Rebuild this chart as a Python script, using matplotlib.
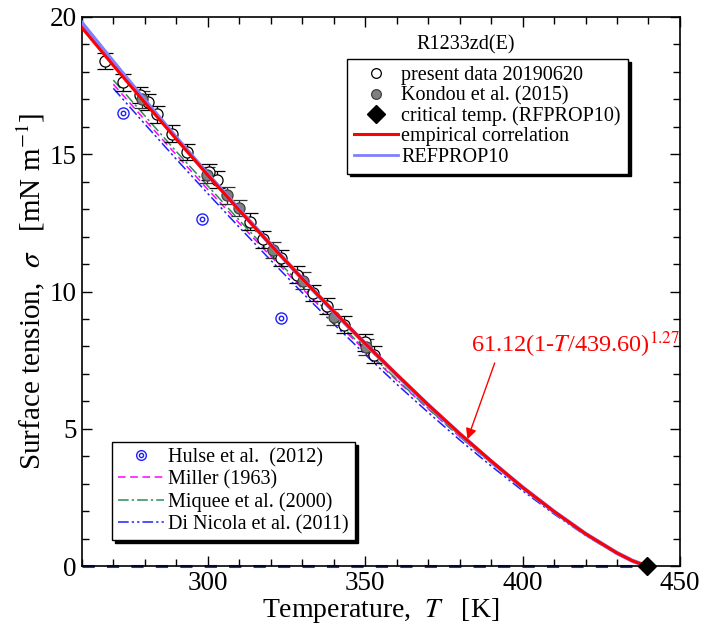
import numpy as np
import matplotlib as mpl
mpl.use('Agg')
import matplotlib.pyplot as plt
from matplotlib.lines import Line2D
from matplotlib.legend_handler import HandlerTuple

plt.rcParams['font.family'] = ['Liberation Serif', 'DejaVu Serif']
plt.rcParams['mathtext.fontset'] = 'stix'

# present data 20190620 (open circles)
present_T = [267.3, 273.0, 278.5, 281.0, 283.8, 288.5, 293.3, 300.5, 302.8, 313.3,
             317.4, 323.4, 328.2, 333.3, 338.0, 343.4, 349.8, 352.9]
present_s = [18.40, 17.62, 17.15, 16.90, 16.45, 15.75, 15.08, 14.35, 14.08, 12.55,
             11.90, 11.22, 10.62, 9.95, 9.47, 8.80, 8.15, 7.70]
present_err = 0.3

# Kondou et al. (2015)
kondou_T = [279.0, 299.6, 306.0, 310.0, 320.6, 330.1, 340.2, 350.4]
kondou_s = [17.00, 14.24, 13.50, 13.04, 11.51, 10.40, 9.07, 7.98]
kondou_err = 0.3

# Hulse et al. (2012)
hulse_T = [273.2, 298.2, 323.2]
hulse_s = [16.50, 12.65, 9.05]

# critical temperature (REFPROP10)
Tc = 439.6

# empirical correlation  61.12(1-T/439.60)^1.27
corr_T = [260, 270, 280, 290, 300, 310, 320, 330, 340, 350, 360, 370, 380, 390,
          400, 410, 420, 430, 435, 439.6]
corr_s = [19.61, 18.23, 16.88, 15.55, 14.24, 12.96, 11.70, 10.47, 9.28, 8.11,
          6.98, 5.88, 4.83, 3.83, 2.87, 1.99, 1.18, 0.48, 0.19, 0.0]

# REFPROP10
ref_T = [260, 270, 280, 290, 300, 310, 320, 330, 340, 350, 360, 370, 380, 390,
         400, 410, 420, 430, 435, 439.6]
ref_s = [19.78, 18.36, 16.96, 15.60, 14.27, 12.98, 11.71, 10.47, 9.27, 8.10,
         6.97, 5.87, 4.82, 3.82, 2.87, 1.99, 1.18, 0.48, 0.19, 0.0]

# Miller (1963)
mil_T = [270, 280, 290, 300, 310, 320, 330, 340, 350, 360, 370, 380, 390, 400,
         410, 420, 430, 439.6]
mil_s = [17.55, 16.25, 14.98, 13.72, 12.49, 11.29, 10.11, 8.96, 7.85, 6.77,
         5.73, 4.72, 3.77, 2.86, 2.00, 1.20, 0.50, 0.0]

# Miquee et al. (2000)
miq_T = [270, 280, 290, 300, 310, 320, 330, 340, 350, 360, 370, 380, 390, 400,
         410, 420, 430, 439.6]
miq_s = [17.70, 16.40, 15.10, 13.85, 12.60, 11.38, 10.20, 9.03, 7.90, 6.80,
         5.75, 4.72, 3.75, 2.83, 1.97, 1.17, 0.47, 0.0]

# Di Nicola et al. (2011)
dn_T = [270, 280, 290, 300, 310, 320, 330, 340, 350, 360, 370, 380, 390, 400,
        410, 420, 430, 439.6]
dn_s = [17.40, 16.10, 14.82, 13.57, 12.34, 11.14, 9.96, 8.82, 7.71, 6.63,
        5.60, 4.60, 3.65, 2.75, 1.90, 1.12, 0.44, 0.0]


fig = plt.figure(figsize=(7.18, 6.27), dpi=100)
ax = fig.add_axes([0.114, 0.097, 0.833, 0.876])

# model lines
ax.plot(mil_T, mil_s, color='#ff00ff', lw=1.1, ls=(0, (5, 3)), zorder=2)
ax.plot(miq_T, miq_s, color='#2e8b57', lw=1.1, ls=(0, (7, 2, 1.5, 2)), zorder=2)
ax.plot(dn_T, dn_s, color='#2020ff', lw=1.1, ls=(0, (7, 2, 1.5, 2, 1.5, 2)), zorder=2)
ax.plot([260, Tc], [0, 0], color='#1030ff', lw=2.2, ls=(0, (4, 4)), zorder=2, clip_on=False)

# data with error bars
ax.errorbar(present_T, present_s, yerr=present_err, fmt='o', ms=8, mfc='white', mec='black',
            mew=0.9, ecolor='black', elinewidth=0.9, capsize=6, capthick=0.9, zorder=3)
ax.errorbar(kondou_T, kondou_s, yerr=kondou_err, fmt='o', ms=8, mfc='#808080', mec='#404040',
            mew=0.9, ecolor='#303030', elinewidth=0.9, capsize=6, capthick=0.9, zorder=3)

ax.plot(ref_T, ref_s, color='#8080ff', lw=3.0, zorder=4)
ax.plot(corr_T, corr_s, color='#ff0000', lw=2.2, zorder=5)

# Hulse (double circle)
ax.plot(hulse_T, hulse_s, 'o', ms=8, mfc='none', mec='#2020ff', mew=1.0, zorder=6)
ax.plot(hulse_T, hulse_s, 'o', ms=3.2, mfc='none', mec='#2020ff', mew=1.0, zorder=6)

# critical point
ax.plot([Tc], [0], 'D', ms=9, color='black', zorder=7, clip_on=False)

ax.set_xlim(260, 450)
ax.set_ylim(0, 20)
ax.set_xticks([300, 350, 400, 450])
ax.set_xticks(np.arange(260, 451, 10), minor=True)
ax.set_yticks([0, 5, 10, 15, 20])
ax.set_yticks(np.arange(0, 21, 1), minor=True)
ax.tick_params(which='both', direction='in', top=True, right=True, labelsize=19.5, width=1.0)
ax.tick_params(which='major', length=7)
ax.tick_params(which='minor', length=5)
for s in ax.spines.values():
    s.set_linewidth(1.2)

ax.set_xlabel('Temperature,  $T$   [K]', fontsize=20, labelpad=0)
ax.set_ylabel('Surface tension,  $\\sigma$   [mN m$^{-1}$]', fontsize=21, labelpad=2)

# annotation
ax.annotate('61.12(1-$T$/439.60)$^{1.27}$', xy=(382.5, 4.62), xytext=(383.5, 7.5),
            color='red', fontsize=17.5, ha='left', va='bottom',
            arrowprops=dict(arrowstyle='-|>', color='red', lw=1.0, mutation_scale=16,
                            shrinkA=0, shrinkB=0, relpos=(0.12, 0.0)))

ax.text(381.8, 19.0, 'R1233zd(E)', fontsize=14.5, ha='center', va='center')

h1 = [Line2D([], [], ls='none', marker='o', ms=7, mfc='white', mec='black', mew=0.9),
      Line2D([], [], ls='none', marker='o', ms=7, mfc='#808080', mec='#404040', mew=0.9),
      Line2D([], [], ls='none', marker='D', ms=9, color='black'),
      Line2D([], [], color='#ff0000', lw=2.2),
      Line2D([], [], color='#8080ff', lw=2.0)]
l1 = ['present data 20190620', 'Kondou et al. (2015)', 'critical temp. (RFPROP10)',
      'empirical correlation', 'REFPROP10']
leg1 = ax.legend(h1, l1, loc='upper left', bbox_to_anchor=(0.443, 0.923), fontsize=14.5,
                 frameon=True, fancybox=False, edgecolor='black', framealpha=1,
                 shadow={'color': 'black', 'alpha': 1}, borderpad=0.35, labelspacing=0.05,
                 handlelength=2.2, handletextpad=0.15, borderaxespad=0)
leg1.get_frame().set_linewidth(1.0)
ax.add_artist(leg1)

hulse_h = (Line2D([], [], ls='none', marker='o', ms=7, mfc='none', mec='#2020ff', mew=1.0),
           Line2D([], [], ls='none', marker='o', ms=3, mfc='none', mec='#2020ff', mew=1.0))
h2 = [hulse_h,
      Line2D([], [], color='#ff00ff', lw=1.1, ls=(0, (5, 3))),
      Line2D([], [], color='#2e8b57', lw=1.1, ls=(0, (7, 2, 1.5, 2))),
      Line2D([], [], color='#2020ff', lw=1.1, ls=(0, (7, 2, 1.5, 2, 1.5, 2)))]
l2 = ['Hulse et al.  (2012)', 'Miller (1963)', 'Miquee et al. (2000)', 'Di Nicola et al. (2011)']
leg2 = ax.legend(h2, l2, loc='lower left', bbox_to_anchor=(0.05, 0.047), fontsize=14.5,
                 frameon=True, fancybox=False, edgecolor='black', framealpha=1,
                 shadow={'color': 'black', 'alpha': 1}, borderpad=0.3, labelspacing=0.15,
                 handlelength=2.3, handletextpad=0.2, borderaxespad=0,
                 handler_map={tuple: HandlerTuple(ndivide=1, pad=0)})
leg2.get_frame().set_linewidth(1.0)

fig.savefig('out.png', dpi=100)
